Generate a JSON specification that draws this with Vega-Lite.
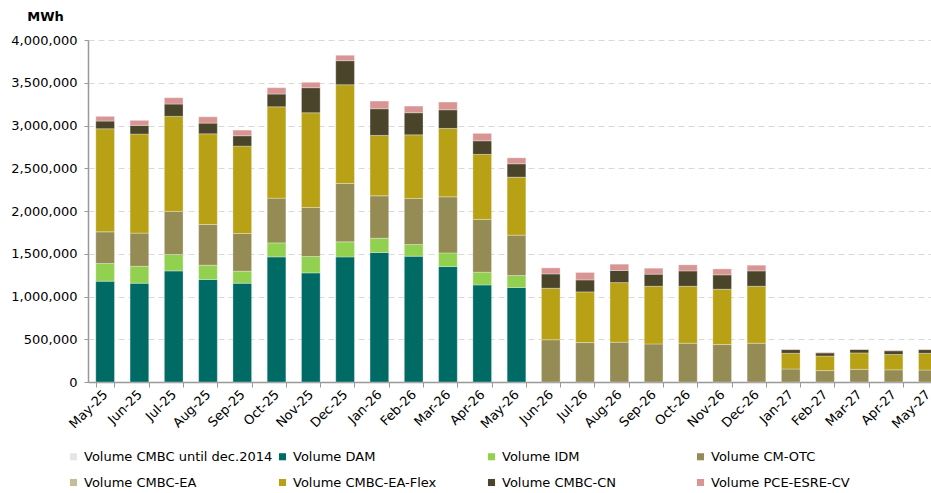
{
  "$schema": "https://vega.github.io/schema/vega-lite/v6.json",
  "autosize": "none",
  "width": 857,
  "height": 342,
  "padding": {"left": 88, "top": 40, "right": 0, "bottom": 111},
  "background": "white",
  "config": {
    "font": "DejaVu Sans",
    "view": {"stroke": null},
    "axis": {"labelFont": "DejaVu Sans", "labelFontSize": 13, "labelColor": "#000000"}
  },
  "datasets": {
    "vol": [
      {"month": "May-25", "series": "Volume DAM", "value": 1179000},
      {"month": "May-25", "series": "Volume IDM", "value": 207000},
      {"month": "May-25", "series": "Volume CM-OTC", "value": 370000},
      {"month": "May-25", "series": "Volume CMBC-EA-Flex", "value": 1206000},
      {"month": "May-25", "series": "Volume CMBC-CN", "value": 90000},
      {"month": "May-25", "series": "Volume PCE-ESRE-CV", "value": 55000},
      {"month": "Jun-25", "series": "Volume DAM", "value": 1155000},
      {"month": "Jun-25", "series": "Volume IDM", "value": 199000},
      {"month": "Jun-25", "series": "Volume CM-OTC", "value": 387000},
      {"month": "Jun-25", "series": "Volume CMBC-EA-Flex", "value": 1159000},
      {"month": "Jun-25", "series": "Volume CMBC-CN", "value": 101000},
      {"month": "Jun-25", "series": "Volume PCE-ESRE-CV", "value": 59000},
      {"month": "Jul-25", "series": "Volume DAM", "value": 1299000},
      {"month": "Jul-25", "series": "Volume IDM", "value": 192000},
      {"month": "Jul-25", "series": "Volume CM-OTC", "value": 504000},
      {"month": "Jul-25", "series": "Volume CMBC-EA-Flex", "value": 1112000},
      {"month": "Jul-25", "series": "Volume CMBC-CN", "value": 144000},
      {"month": "Jul-25", "series": "Volume PCE-ESRE-CV", "value": 74000},
      {"month": "Aug-25", "series": "Volume DAM", "value": 1199000},
      {"month": "Aug-25", "series": "Volume IDM", "value": 167000},
      {"month": "Aug-25", "series": "Volume CM-OTC", "value": 476000},
      {"month": "Aug-25", "series": "Volume CMBC-EA-Flex", "value": 1061000},
      {"month": "Aug-25", "series": "Volume CMBC-CN", "value": 125000},
      {"month": "Aug-25", "series": "Volume PCE-ESRE-CV", "value": 74000},
      {"month": "Sep-25", "series": "Volume DAM", "value": 1155000},
      {"month": "Sep-25", "series": "Volume IDM", "value": 141000},
      {"month": "Sep-25", "series": "Volume CM-OTC", "value": 441000},
      {"month": "Sep-25", "series": "Volume CMBC-EA-Flex", "value": 1022000},
      {"month": "Sep-25", "series": "Volume CMBC-CN", "value": 121000},
      {"month": "Sep-25", "series": "Volume PCE-ESRE-CV", "value": 66000},
      {"month": "Oct-25", "series": "Volume DAM", "value": 1463000},
      {"month": "Oct-25", "series": "Volume IDM", "value": 164000},
      {"month": "Oct-25", "series": "Volume CM-OTC", "value": 523000},
      {"month": "Oct-25", "series": "Volume CMBC-EA-Flex", "value": 1069000},
      {"month": "Oct-25", "series": "Volume CMBC-CN", "value": 149000},
      {"month": "Oct-25", "series": "Volume PCE-ESRE-CV", "value": 74000},
      {"month": "Nov-25", "series": "Volume DAM", "value": 1276000},
      {"month": "Nov-25", "series": "Volume IDM", "value": 192000},
      {"month": "Nov-25", "series": "Volume CM-OTC", "value": 573000},
      {"month": "Nov-25", "series": "Volume CMBC-EA-Flex", "value": 1108000},
      {"month": "Nov-25", "series": "Volume CMBC-CN", "value": 293000},
      {"month": "Nov-25", "series": "Volume PCE-ESRE-CV", "value": 63000},
      {"month": "Dec-25", "series": "Volume DAM", "value": 1463000},
      {"month": "Dec-25", "series": "Volume IDM", "value": 176000},
      {"month": "Dec-25", "series": "Volume CM-OTC", "value": 683000},
      {"month": "Dec-25", "series": "Volume CMBC-EA-Flex", "value": 1155000},
      {"month": "Dec-25", "series": "Volume CMBC-CN", "value": 281000},
      {"month": "Dec-25", "series": "Volume PCE-ESRE-CV", "value": 63000},
      {"month": "Jan-26", "series": "Volume DAM", "value": 1515000},
      {"month": "Jan-26", "series": "Volume IDM", "value": 167000},
      {"month": "Jan-26", "series": "Volume CM-OTC", "value": 495000},
      {"month": "Jan-26", "series": "Volume CMBC-EA-Flex", "value": 707000},
      {"month": "Jan-26", "series": "Volume CMBC-CN", "value": 312000},
      {"month": "Jan-26", "series": "Volume PCE-ESRE-CV", "value": 90000},
      {"month": "Feb-26", "series": "Volume DAM", "value": 1471000},
      {"month": "Feb-26", "series": "Volume IDM", "value": 137000},
      {"month": "Feb-26", "series": "Volume CM-OTC", "value": 539000},
      {"month": "Feb-26", "series": "Volume CMBC-EA-Flex", "value": 744000},
      {"month": "Feb-26", "series": "Volume CMBC-CN", "value": 258000},
      {"month": "Feb-26", "series": "Volume PCE-ESRE-CV", "value": 78000},
      {"month": "Mar-26", "series": "Volume DAM", "value": 1351000},
      {"month": "Mar-26", "series": "Volume IDM", "value": 159000},
      {"month": "Mar-26", "series": "Volume CM-OTC", "value": 656000},
      {"month": "Mar-26", "series": "Volume CMBC-EA-Flex", "value": 800000},
      {"month": "Mar-26", "series": "Volume CMBC-CN", "value": 218000},
      {"month": "Mar-26", "series": "Volume PCE-ESRE-CV", "value": 90000},
      {"month": "Apr-26", "series": "Volume DAM", "value": 1135000},
      {"month": "Apr-26", "series": "Volume IDM", "value": 149000},
      {"month": "Apr-26", "series": "Volume CM-OTC", "value": 617000},
      {"month": "Apr-26", "series": "Volume CMBC-EA-Flex", "value": 761000},
      {"month": "Apr-26", "series": "Volume CMBC-CN", "value": 159000},
      {"month": "Apr-26", "series": "Volume PCE-ESRE-CV", "value": 87000},
      {"month": "May-26", "series": "Volume DAM", "value": 1105000},
      {"month": "May-26", "series": "Volume IDM", "value": 140000},
      {"month": "May-26", "series": "Volume CM-OTC", "value": 472000},
      {"month": "May-26", "series": "Volume CMBC-EA-Flex", "value": 679000},
      {"month": "May-26", "series": "Volume CMBC-CN", "value": 156000},
      {"month": "May-26", "series": "Volume PCE-ESRE-CV", "value": 70000},
      {"month": "Jun-26", "series": "Volume CM-OTC", "value": 494000},
      {"month": "Jun-26", "series": "Volume CMBC-EA-Flex", "value": 603000},
      {"month": "Jun-26", "series": "Volume CMBC-CN", "value": 167000},
      {"month": "Jun-26", "series": "Volume PCE-ESRE-CV", "value": 71000},
      {"month": "Jul-26", "series": "Volume CM-OTC", "value": 461000},
      {"month": "Jul-26", "series": "Volume CMBC-EA-Flex", "value": 593000},
      {"month": "Jul-26", "series": "Volume CMBC-CN", "value": 140000},
      {"month": "Jul-26", "series": "Volume PCE-ESRE-CV", "value": 87000},
      {"month": "Aug-26", "series": "Volume CM-OTC", "value": 465000},
      {"month": "Aug-26", "series": "Volume CMBC-EA-Flex", "value": 698000},
      {"month": "Aug-26", "series": "Volume CMBC-CN", "value": 141000},
      {"month": "Aug-26", "series": "Volume PCE-ESRE-CV", "value": 74000},
      {"month": "Sep-26", "series": "Volume CM-OTC", "value": 445000},
      {"month": "Sep-26", "series": "Volume CMBC-EA-Flex", "value": 675000},
      {"month": "Sep-26", "series": "Volume CMBC-CN", "value": 141000},
      {"month": "Sep-26", "series": "Volume PCE-ESRE-CV", "value": 70000},
      {"month": "Oct-26", "series": "Volume CM-OTC", "value": 453000},
      {"month": "Oct-26", "series": "Volume CMBC-EA-Flex", "value": 667000},
      {"month": "Oct-26", "series": "Volume CMBC-CN", "value": 179000},
      {"month": "Oct-26", "series": "Volume PCE-ESRE-CV", "value": 71000},
      {"month": "Nov-26", "series": "Volume CM-OTC", "value": 438000},
      {"month": "Nov-26", "series": "Volume CMBC-EA-Flex", "value": 647000},
      {"month": "Nov-26", "series": "Volume CMBC-CN", "value": 168000},
      {"month": "Nov-26", "series": "Volume PCE-ESRE-CV", "value": 70000},
      {"month": "Dec-26", "series": "Volume CM-OTC", "value": 453000},
      {"month": "Dec-26", "series": "Volume CMBC-EA-Flex", "value": 667000},
      {"month": "Dec-26", "series": "Volume CMBC-CN", "value": 179000},
      {"month": "Dec-26", "series": "Volume PCE-ESRE-CV", "value": 67000},
      {"month": "Jan-27", "series": "Volume CM-OTC", "value": 152000},
      {"month": "Jan-27", "series": "Volume CMBC-EA-Flex", "value": 184000},
      {"month": "Jan-27", "series": "Volume CMBC-CN", "value": 43000},
      {"month": "Jan-27", "series": "Volume PCE-ESRE-CV", "value": 6000},
      {"month": "Feb-27", "series": "Volume CM-OTC", "value": 133000},
      {"month": "Feb-27", "series": "Volume CMBC-EA-Flex", "value": 171000},
      {"month": "Feb-27", "series": "Volume CMBC-CN", "value": 36000},
      {"month": "Feb-27", "series": "Volume PCE-ESRE-CV", "value": 7000},
      {"month": "Mar-27", "series": "Volume CM-OTC", "value": 148000},
      {"month": "Mar-27", "series": "Volume CMBC-EA-Flex", "value": 192000},
      {"month": "Mar-27", "series": "Volume CMBC-CN", "value": 40000},
      {"month": "Mar-27", "series": "Volume PCE-ESRE-CV", "value": 5000},
      {"month": "Apr-27", "series": "Volume CM-OTC", "value": 142000},
      {"month": "Apr-27", "series": "Volume CMBC-EA-Flex", "value": 180000},
      {"month": "Apr-27", "series": "Volume CMBC-CN", "value": 43000},
      {"month": "Apr-27", "series": "Volume PCE-ESRE-CV", "value": 6000},
      {"month": "May-27", "series": "Volume CM-OTC", "value": 140000},
      {"month": "May-27", "series": "Volume CMBC-EA-Flex", "value": 196000},
      {"month": "May-27", "series": "Volume CMBC-CN", "value": 43000},
      {"month": "May-27", "series": "Volume PCE-ESRE-CV", "value": 5000}
    ],
    "order": [
      {"series": "Volume CMBC until dec.2014", "rank": 0},
      {"series": "Volume DAM", "rank": 1},
      {"series": "Volume IDM", "rank": 2},
      {"series": "Volume CM-OTC", "rank": 3},
      {"series": "Volume CMBC-EA", "rank": 4},
      {"series": "Volume CMBC-EA-Flex", "rank": 5},
      {"series": "Volume CMBC-CN", "rank": 6},
      {"series": "Volume PCE-ESRE-CV", "rank": 7}
    ]
  },
  "data": {"name": "vol"},
  "transform": [
    {"lookup": "series", "from": {"data": {"name": "order"}, "key": "series", "fields": ["rank"]}}
  ],
  "mark": {"type": "bar", "stroke": "#ffffff", "strokeWidth": 0.6, "strokeOpacity": 0.5},
  "encoding": {
    "x": {
      "field": "month",
      "type": "ordinal",
      "sort": null,
      "scale": {"paddingInner": 0.455, "paddingOuter": 0.2275},
      "axis": {
        "title": null,
        "labelAngle": -45,
        "labelAlign": "right",
        "labelBaseline": "middle",
        "labelPadding": 5,
        "tickBand": "extent",
        "tickSize": 5,
        "tickColor": "#999999",
        "domainColor": "#999999",
        "domainWidth": 1.5,
        "labelFlush": false,
        "labelOverlap": false
      }
    },
    "y": {
      "field": "value",
      "type": "quantitative",
      "aggregate": "sum",
      "stack": "zero",
      "scale": {"domain": [0, 4000000], "nice": false},
      "axis": {
        "title": "MWh",
        "titleAngle": 0,
        "titleX": -43,
        "titleY": -24,
        "titleAlign": "center",
        "titleBaseline": "middle",
        "titleFontSize": 13,
        "titleFontWeight": "bold",
        "titleColor": "#000000",
        "titleFont": "DejaVu Sans",
        "values": [0, 500000, 1000000, 1500000, 2000000, 2500000, 3000000, 3500000, 4000000],
        "format": ",d",
        "tickSize": 4,
        "tickColor": "#999999",
        "domainColor": "#999999",
        "domainWidth": 1.5,
        "labelPadding": 7,
        "gridColor": "#d9d9d9",
        "gridDash": [6, 4],
        "gridWidth": 1
      }
    },
    "color": {
      "field": "series",
      "type": "nominal",
      "scale": {
        "domain": ["Volume CMBC until dec.2014", "Volume DAM", "Volume IDM", "Volume CM-OTC", "Volume CMBC-EA", "Volume CMBC-EA-Flex", "Volume CMBC-CN", "Volume PCE-ESRE-CV"],
        "range": ["#e6e6e6", "#006a65", "#92d050", "#958b54", "#c4bd97", "#b9a115", "#4a452a", "#d99594"]
      },
      "legend": {
        "title": null,
        "orient": "none",
        "legendX": -21,
        "legendY": 410,
        "direction": "horizontal",
        "columns": 4,
        "gridAlign": "all",
        "columnPadding": 3,
        "rowPadding": 12,
        "padding": 0,
        "symbolType": "square",
        "symbolSize": 50,
        "symbolStrokeWidth": 0,
        "labelFontSize": 13,
        "labelFont": "DejaVu Sans",
        "labelColor": "#000000",
        "labelOffset": 4,
        "labelLimit": 300
      }
    },
    "order": {"field": "rank", "type": "quantitative", "aggregate": "min"}
  }
}
